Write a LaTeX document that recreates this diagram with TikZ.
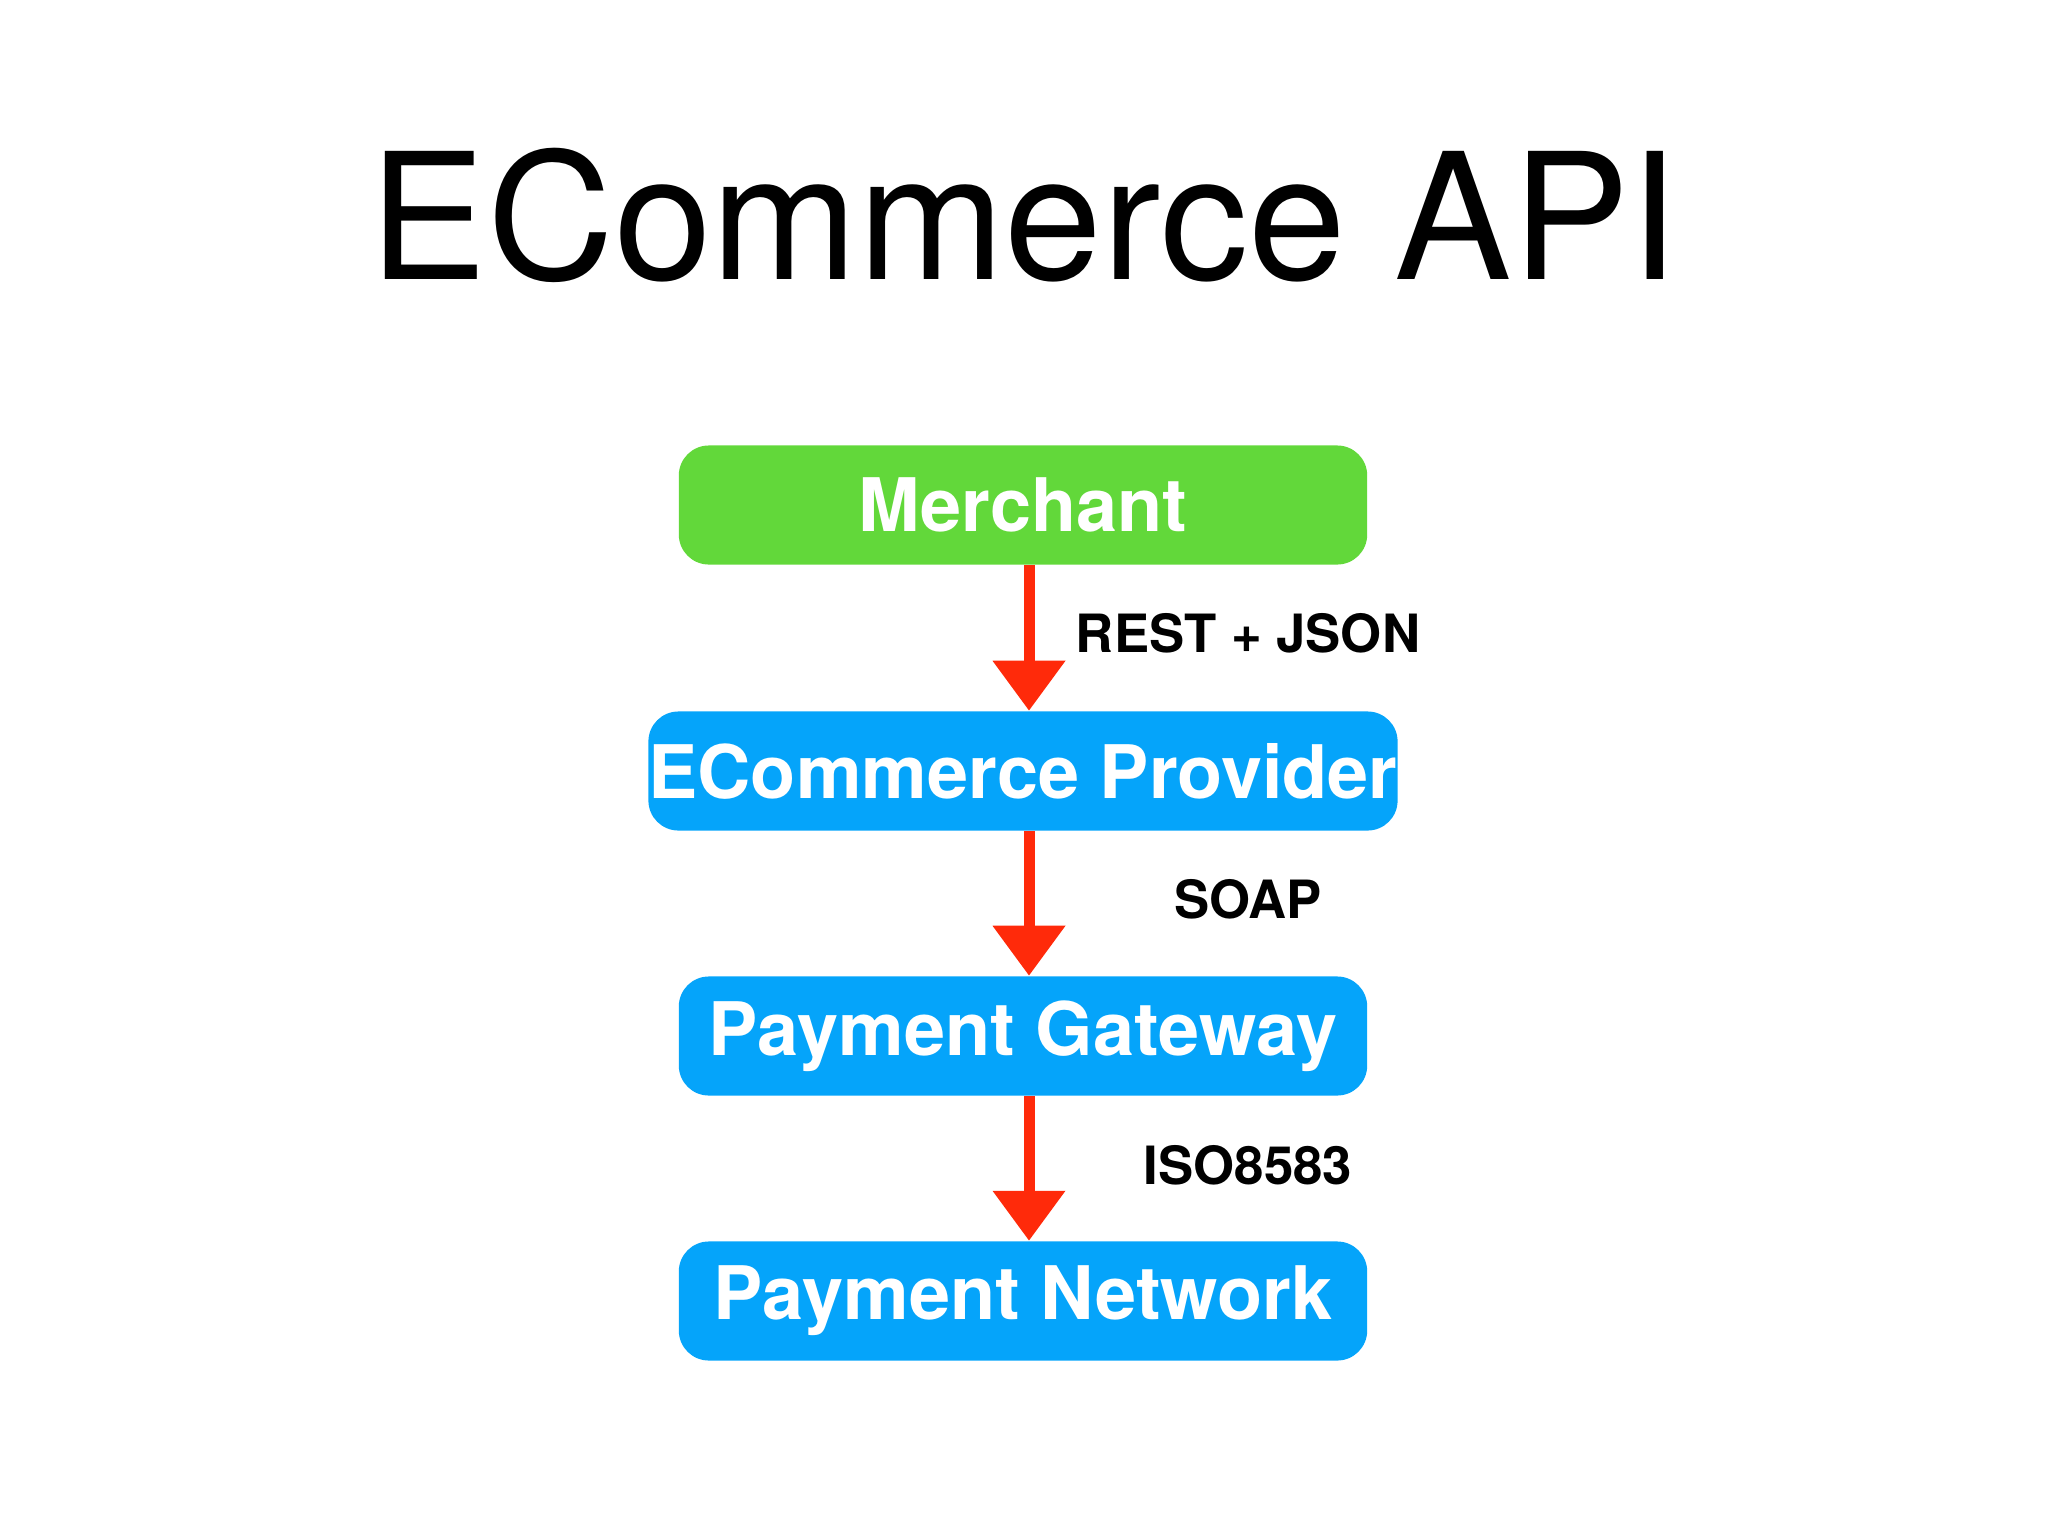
\documentclass[tikz,border=0pt]{standalone}
\usepackage{fontspec}
\setmainfont{TeX Gyre Heros}
\usetikzlibrary{arrows.meta}
\definecolor{mgreen}{HTML}{62D83A}
\definecolor{mblue}{HTML}{05A4FA}
\definecolor{mred}{HTML}{FF2A0A}
\tikzset{
 box/.style={rounded corners=0.3cm, minimum width=6.88cm, minimum height=1.19cm, text=white, font=\bfseries\fontsize{21}{24}\selectfont, inner sep=0},
 arr/.style={mred, line width=0.11cm, -{Triangle[length=0.5cm,width=0.7cm]}},
 lab/.style={font=\bfseries\fontsize{15}{18}\selectfont}
}
\begin{document}
\begin{tikzpicture}[x=0.01cm,y=-0.01cm]
\useasboundingbox (0,0) rectangle (2048,1536);
\node[font=\fontsize{50}{60}\selectfont] (t) at (1024,215) {ECommerce API};
\node[box, fill=mgreen] (m) at (1023,505) {Merchant};
\node[box, fill=mblue] (e) at (1023,771) {ECommerce Provider};
\node[box, fill=mblue] (g) at (1023,1036) {Payment Gateway};
\node[box, fill=mblue] (n) at (1023,1301) {Payment Network};
\draw[arr] (m.south -| 1029,0) -- (e.north -| 1029,0);
\draw[arr] (e.south -| 1029,0) -- (g.north -| 1029,0);
\draw[arr] (g.south -| 1029,0) -- (n.north -| 1029,0);
\node[lab] (l1) at (1248,633) {REST + JSON};
\node[lab] (l2) at (1248,899) {SOAP};
\node[lab] (l3) at (1248,1165) {ISO8583};
\end{tikzpicture}
\end{document}
